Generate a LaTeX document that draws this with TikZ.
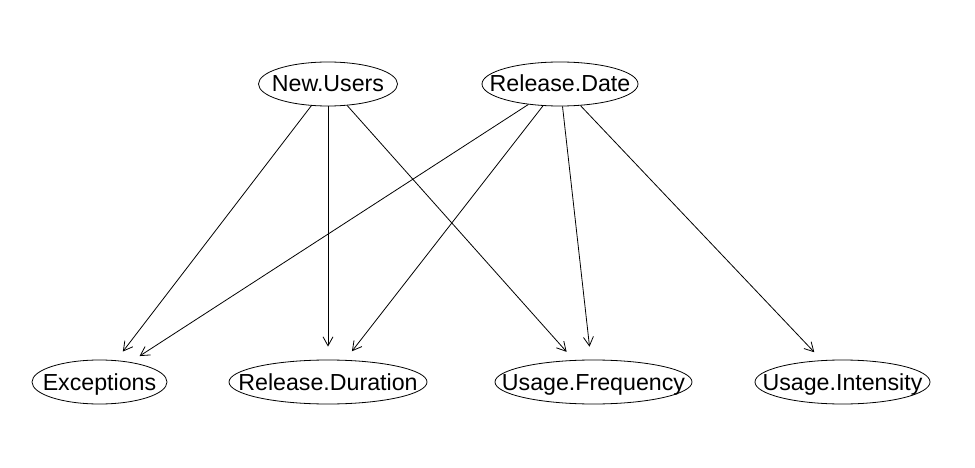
\documentclass[tikz,border=0pt]{standalone}
\usepackage{fontspec}
\setmainfont{Liberation Sans}
\usetikzlibrary{shapes.geometric,arrows.meta}
\begin{document}
\begin{tikzpicture}[x=1pt,y=-1pt,
  var/.style={draw,ellipse,line width=0.8pt,inner sep=0pt,minimum height=44pt,
    font=\fontsize{23.2}{28}\selectfont,text height=16pt,text depth=0pt},
  edge/.style={line width=0.8pt,-{Straight Barb[length=9pt,width=10pt,line width=0.8pt]},shorten >=11pt}]
\useasboundingbox (0,0) rectangle (975,468);
\newcommand{\lbl}[1]{\makebox[0pt]{#1}}
\node[var,minimum width=139pt] (nu) at (328,84) {\lbl{New.Users}};
\node[var,minimum width=156pt] (rd) at (560,84) {\lbl{Release.Date}};
\node[var,minimum width=135pt] (ex) at (99.5,382) {\lbl{Exceptions}};
\node[var,minimum width=198pt] (rdur) at (328,382) {\lbl{Release.Duration}};
\node[var,minimum width=197pt] (uf) at (593.5,382) {\lbl{Usage.Frequency}};
\node[var,minimum width=175pt] (ui) at (842.5,382) {\lbl{Usage.Intensity}};
\draw[edge] (nu) -- (ex);
\draw[edge,shorten >=13pt] (nu) -- (rdur);
\draw[edge] (nu) -- (uf);
\draw[edge] (rd) -- (ex);
\draw[edge] (rd) -- (rdur);
\draw[edge,shorten >=13pt] (rd) -- (uf);
\draw[edge] (rd) -- (ui);
\end{tikzpicture}
\end{document}
